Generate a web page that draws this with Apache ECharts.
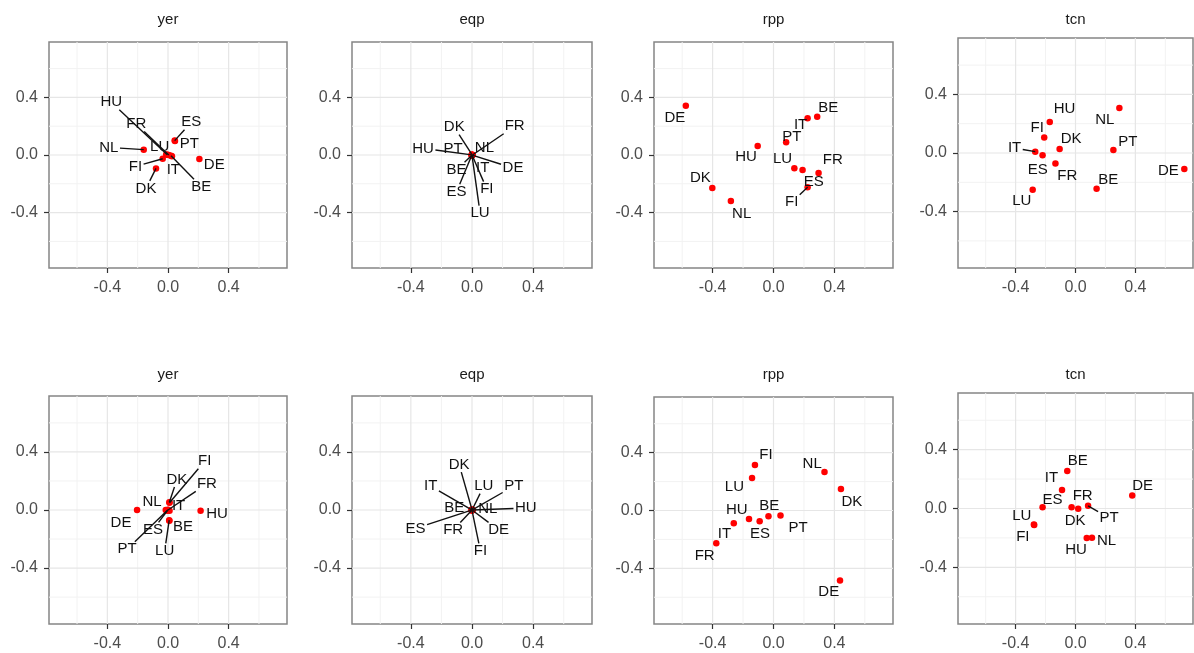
<!DOCTYPE html>
<html><head><meta charset="utf-8">
<script src="https://cdn.jsdelivr.net/npm/echarts@6/dist/echarts.min.js"></script>
<style>html,body{margin:0;padding:0;background:#fff}#c{width:1194px;height:653px}</style>
</head><body><div id="c"></div>
<script>
// ---------------- DATA ----------------
const panelTitles = ['yer', 'eqp', 'rpp', 'tcn', 'yer', 'eqp', 'rpp', 'tcn'];
const tickValues = [-0.4, 0, 0.4];
const majorGrid = [-0.4, 0, 0.4];
const minorGrid = [-0.6, -0.2, 0.2, 0.6];

// points: [country, x, y]; labels: [labelX, labelY] (repelled label positions, same order)
const yerTopPoints = [['NL', -0.16, 0.037], ['ES', 0.044, 0.10], ['PT', 0.046, 0.098], ['DE', 0.207, -0.028],
  ['DK', -0.079, -0.093], ['FI', -0.035, -0.026], ['LU', -0.012, 0.004], ['IT', 0.026, -0.008],
  ['BE', 0.02, -0.005], ['HU', -0.005, 0.002], ['FR', 0.005, 0.0]];
const yerTopLabels = [[-0.39, 0.053], [0.154, 0.227], [0.14, 0.077], [0.305, -0.067],
  [-0.145, -0.232], [-0.215, -0.079], [-0.055, 0.06], [0.035, -0.1],
  [0.22, -0.22], [-0.374, 0.367], [-0.209, 0.216]];

const eqpTopPoints = [['DK', 0.0, 0.002], ['FR', 0.003, 0.0], ['HU', -0.002, 0.001], ['PT', 0.0, 0.0],
  ['NL', 0.002, 0.002], ['BE', -0.001, -0.002], ['IT', 0.002, -0.001], ['DE', 0.001, -0.001],
  ['ES', -0.002, -0.003], ['FI', 0.001, -0.002], ['LU', 0.0, -0.003]];
const eqpTopLabels = [[-0.116, 0.193], [0.279, 0.2], [-0.32, 0.046], [-0.123, 0.046],
  [0.081, 0.053], [-0.101, -0.102], [0.07, -0.086], [0.268, -0.09],
  [-0.101, -0.255], [0.097, -0.237], [0.053, -0.404]];

const rppTopPoints = [['DE', -0.576, 0.342], ['BE', 0.287, 0.266], ['IT', 0.224, 0.256], ['PT', 0.083, 0.088],
  ['HU', -0.104, 0.062], ['LU', 0.137, -0.092], ['ES', 0.191, -0.104], ['FR', 0.296, -0.125],
  ['FI', 0.224, -0.224], ['DK', -0.402, -0.229], ['NL', -0.28, -0.319]];
const rppTopLabels = [[-0.648, 0.256], [0.359, 0.33], [0.178, 0.21], [0.12, 0.127],
  [-0.18, -0.016], [0.059, -0.028], [0.265, -0.19], [0.389, -0.035],
  [0.12, -0.328], [-0.48, -0.162], [-0.209, -0.409]];

const tcnTopPoints = [['HU', -0.172, 0.212], ['NL', 0.293, 0.308], ['FI', -0.209, 0.105], ['DK', -0.106, 0.027],
  ['IT', -0.269, 0.009], ['ES', -0.22, -0.016], ['FR', -0.134, -0.071], ['PT', 0.253, 0.021],
  ['BE', 0.141, -0.244], ['LU', -0.286, -0.251], ['DE', 0.727, -0.109]];
const tcnTopLabels = [[-0.073, 0.30], [0.196, 0.228], [-0.256, 0.171], [-0.029, 0.096],
  [-0.407, 0.034], [-0.253, -0.114], [-0.055, -0.159], [0.35, 0.075],
  [0.218, -0.182], [-0.359, -0.33], [0.621, -0.121]];

const yerBottomPoints = [['DE', -0.204, 0.0], ['HU', 0.215, -0.005], ['NL', -0.015, 0.0], ['DK', 0.009, 0.053],
  ['FI', 0.01, 0.05], ['FR', 0.0, 0.0], ['IT', 0.01, -0.005], ['BE', 0.009, -0.074],
  ['LU', 0.008, -0.07], ['ES', -0.005, -0.005], ['PT', 0.0, 0.002]];
const yerBottomLabels = [[-0.31, -0.09], [0.323, -0.028], [-0.105, 0.053], [0.059, 0.21],
  [0.242, 0.336], [0.257, 0.18], [0.07, 0.03], [0.099, -0.113],
  [-0.022, -0.282], [-0.099, -0.137], [-0.27, -0.27]];

const eqpBottomPoints = [['DK', 0.0, 0.002], ['IT', -0.002, 0.001], ['LU', 0.001, 0.002], ['PT', 0.002, 0.001],
  ['BE', -0.001, 0.0], ['NL', 0.001, 0.0], ['HU', 0.003, 0.0], ['ES', -0.003, -0.001],
  ['FR', -0.001, -0.001], ['DE', 0.002, -0.002], ['FI', 0.0, -0.003]];
const eqpBottomLabels = [[-0.084, 0.3125], [-0.27, 0.164], [0.077, 0.164], [0.273, 0.164],
  [-0.116, 0.012], [0.103, 0.007], [0.352, 0.014], [-0.369, -0.127],
  [-0.123, -0.137], [0.174, -0.137], [0.055, -0.282]];

const rppBottomPoints = [['FI', -0.122, 0.315], ['LU', -0.141, 0.225], ['NL', 0.335, 0.266], ['DK', 0.443, 0.148],
  ['HU', -0.161, -0.058], ['BE', -0.033, -0.039], ['ES', -0.091, -0.074], ['PT', 0.046, -0.035],
  ['IT', -0.261, -0.088], ['FR', -0.376, -0.227], ['DE', 0.437, -0.484]];
const rppBottomLabels = [[-0.05, 0.384], [-0.257, 0.162], [0.254, 0.326], [0.515, 0.06],
  [-0.241, 0.007], [-0.028, 0.03], [-0.089, -0.16], [0.161, -0.12],
  [-0.322, -0.16], [-0.452, -0.3125], [0.363, -0.56]];

const tcnBottomPoints = [['BE', -0.055, 0.255], ['IT', -0.09, 0.125], ['DE', 0.379, 0.089], ['ES', -0.22, 0.009],
  ['PT', 0.084, 0.018], ['FR', -0.026, 0.009], ['DK', 0.018, -0.002], ['LU', -0.278, -0.109],
  ['FI', -0.276, -0.112], ['HU', 0.075, -0.2], ['NL', 0.11, -0.198]];
const tcnBottomLabels = [[0.015, 0.323], [-0.161, 0.211], [0.449, 0.155], [-0.154, 0.057],
  [0.225, -0.064], [0.048, 0.086], [-0.002, -0.084], [-0.359, -0.048],
  [-0.352, -0.193], [0.004, -0.284], [0.207, -0.22]];

const panelPoints = [yerTopPoints, eqpTopPoints, rppTopPoints, tcnTopPoints,
  yerBottomPoints, eqpBottomPoints, rppBottomPoints, tcnBottomPoints];
const panelLabels = [yerTopLabels, eqpTopLabels, rppTopLabels, tcnTopLabels,
  yerBottomLabels, eqpBottomLabels, rppBottomLabels, tcnBottomLabels];

// ---------------- LAYOUT ----------------
const R = 0.785;
const gridBoxes = [
  [49, 42, 238, 226], [352, 42, 240, 226], [654, 42, 239, 226], [958, 38, 235, 230],
  [49, 396, 238, 228], [352, 396, 240, 228], [654, 397, 239, 227], [958, 393, 235, 231]
];
const FONT = '"Liberation Sans", Arial, Helvetica, sans-serif';
const LABEL_FONT = '15px ' + FONT;
const measureCtx = document.createElement('canvas').getContext('2d');
measureCtx.font = LABEL_FONT;

function gridRenderer(params, api) {
  const ch = [];
  const add = (vals, style) => vals.forEach(v => {
    const a = api.coord([v, -R]), b = api.coord([v, R]);
    ch.push({ type: 'line', shape: { x1: a[0], y1: a[1], x2: b[0], y2: b[1] }, style: style });
    const c = api.coord([-R, v]), d = api.coord([R, v]);
    ch.push({ type: 'line', shape: { x1: c[0], y1: c[1], x2: d[0], y2: d[1] }, style: style });
  });
  add(minorGrid, { stroke: '#f2f2f2', lineWidth: 1 });
  add(majorGrid, { stroke: '#e6e6e6', lineWidth: 1.2 });
  return { type: 'group', children: ch };
}

function labelRenderer(points) {
  return function (params, api) {
    const name = points[params.dataIndex][0];
    const p = api.coord([api.value(0), api.value(1)]);
    const l = api.coord([api.value(2), api.value(3)]);
    const hw = measureCtx.measureText(name).width / 2 + 1.5, hh = 7.5;
    const dx = p[0] - l[0], dy = p[1] - l[1];
    const ax = Math.abs(dx), ay = Math.abs(dy);
    const children = [];
    if (ax > hw || ay > hh) {
      const t = Math.min(ax > 0 ? hw / ax : Infinity, ay > 0 ? hh / ay : Infinity);
      const gap = (1 - t) * Math.hypot(dx, dy);
      if (gap > 9.5) {
        children.push({ type: 'line', shape: { x1: p[0], y1: p[1], x2: l[0] + t * dx, y2: l[1] + t * dy },
          style: { stroke: '#111', lineWidth: 1.4 } });
      }
    }
    children.push({ type: 'text', x: l[0], y: l[1],
      style: { text: name, fill: '#111', textFill: '#111', font: LABEL_FONT,
        align: 'center', verticalAlign: 'middle', textAlign: 'center', textVerticalAlign: 'middle' } });
    return { type: 'group', children: children };
  };
}

const grids = [], xAxes = [], yAxes = [], series = [], graphics = [];
panelTitles.forEach((title, i) => {
  const [left, top, width, height] = gridBoxes[i];
  grids.push({ left, top, width, height, show: true, borderColor: '#858585', borderWidth: 1.5, backgroundColor: '#fff' });
  const axisCommon = {
    gridIndex: i, type: 'value', min: -R, max: R,
    splitLine: { show: false }, axisLine: { show: false, onZero: false },
    axisTick: { show: true, customValues: tickValues, length: 5, lineStyle: { color: '#333', width: 1.2 } },
    axisLabel: { customValues: tickValues, formatter: v => v.toFixed(1), color: '#4d4d4d', fontSize: 16, fontFamily: FONT }
  };
  xAxes.push(Object.assign({}, axisCommon, { position: 'bottom', axisLabel: Object.assign({}, axisCommon.axisLabel, { margin: 12 }) }));
  yAxes.push(Object.assign({}, axisCommon, { position: 'left', axisLabel: Object.assign({}, axisCommon.axisLabel, { margin: 11 }) }));

  series.push({ type: 'custom', xAxisIndex: i, yAxisIndex: i, z: 1, silent: true, data: [[0, 0]], renderItem: gridRenderer });
  const pts = panelPoints[i], labs = panelLabels[i];
  series.push({ type: 'scatter', xAxisIndex: i, yAxisIndex: i, z: 2, symbolSize: 6.5,
    itemStyle: { color: '#ff0000', opacity: 1 }, data: pts.map(p => [p[1], p[2]]) });
  series.push({ type: 'custom', xAxisIndex: i, yAxisIndex: i, z: 3, silent: true,
    encode: { x: [0, 2], y: [1, 3] },
    data: pts.map((p, k) => [p[1], p[2], labs[k][0], labs[k][1]]),
    renderItem: labelRenderer(pts) });

  graphics.push({ type: 'text', x: left + width / 2, y: i < 4 ? 20 : 375,
    style: { text: title, fill: '#1a1a1a', textFill: '#1a1a1a', font: '15px ' + FONT,
      align: 'center', verticalAlign: 'middle', textAlign: 'center', textVerticalAlign: 'middle' } });
});

const chart = echarts.init(document.getElementById('c'), null, { renderer: 'canvas' });
chart.setOption({
  animation: false,
  backgroundColor: '#fff',
  grid: grids, xAxis: xAxes, yAxis: yAxes, series: series, graphic: graphics
});
</script></body></html>
